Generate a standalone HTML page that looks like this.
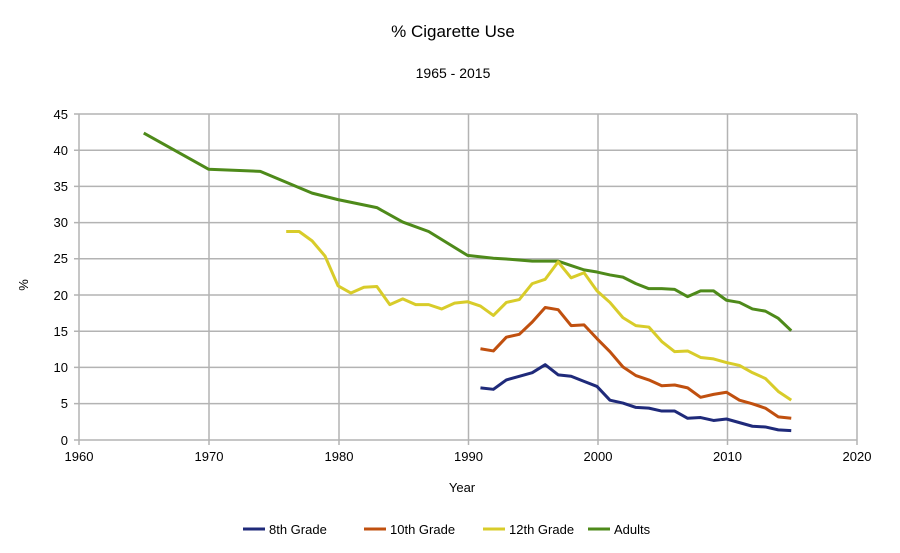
<!DOCTYPE html>
<html><head><style>
body{margin:0;background:#fff;}
svg{display:block;font-family:"Liberation Sans",sans-serif;}
</style></head><body>
<svg width="900" height="553" viewBox="0 0 900 553">
<rect width="900" height="553" fill="#fff"/>
<text x="453" y="37" font-size="17" text-anchor="middle">% Cigarette Use</text>
<text x="453" y="78" font-size="14" text-anchor="middle">1965 - 2015</text>
<g stroke="#b3b3b3" stroke-width="1.5" fill="none">
<path d="M74 114H857M74 150.2H857M74 186.4H857M74 222.6H857M74 258.8H857M74 295H857M74 331.2H857M74 367.4H857M74 403.6H857M74 440H857"/>
<path d="M79 114V445M209 114V445M339 114V445M468.5 114V445M598 114V445M727.5 114V445M857 114V445"/>
</g>
<g font-size="13" text-anchor="end" fill="#000">
<text x="68" y="119">45</text><text x="68" y="155">40</text><text x="68" y="191">35</text><text x="68" y="227">30</text><text x="68" y="263">25</text><text x="68" y="300">20</text><text x="68" y="336">15</text><text x="68" y="372">10</text><text x="68" y="408">5</text><text x="68" y="445">0</text>
</g>
<g font-size="13" text-anchor="middle">
<text x="79" y="461">1960</text><text x="209" y="461">1970</text><text x="339" y="461">1980</text><text x="468.5" y="461">1990</text><text x="598" y="461">2000</text><text x="727.5" y="461">2010</text><text x="857" y="461">2020</text>
<text x="462" y="492">Year</text>
</g>
<text x="28" y="285" font-size="13" text-anchor="middle" transform="rotate(-90 28 285)">%</text>
<g transform="translate(79,440) scale(12.95,-7.24)" fill="none" stroke-width="3" stroke-linejoin="round">
<polyline vector-effect="non-scaling-stroke" stroke="#4e8a1a" points="5,42.4 10,37.4 14,37.1 18,34.1 20,33.2 23,32.1 25,30.1 27,28.8 30,25.5 32,25.1 33,25 35,24.7 37,24.7 38,24.1 39,23.5 40,23.2 41,22.8 42,22.5 43,21.6 44,20.9 45,20.9 46,20.8 47,19.8 48,20.6 49,20.6 50,19.3 51,19.0 52,18.1 53,17.8 54,16.8 55,15.1"/>
<polyline vector-effect="non-scaling-stroke" stroke="#d8cc2a" points="16,28.8 17,28.8 18,27.5 19,25.4 20,21.3 21,20.3 22,21.1 23,21.2 24,18.7 25,19.5 26,18.7 27,18.7 28,18.1 29,18.9 30,19.1 31,18.5 32,17.2 33,19.0 34,19.4 35,21.6 36,22.2 37,24.6 38,22.4 39,23.1 40,20.6 41,19.0 42,16.9 43,15.8 44,15.6 45,13.6 46,12.2 47,12.3 48,11.4 49,11.2 50,10.7 51,10.3 52,9.3 53,8.5 54,6.7 55,5.5"/>
<polyline vector-effect="non-scaling-stroke" stroke="#c0500f" points="31,12.6 32,12.3 33,14.2 34,14.6 35,16.3 36,18.3 37,18.0 38,15.8 39,15.9 40,14.0 41,12.2 42,10.1 43,8.9 44,8.3 45,7.5 46,7.6 47,7.2 48,5.9 49,6.3 50,6.6 51,5.5 52,5.0 53,4.4 54,3.2 55,3.0"/>
<polyline vector-effect="non-scaling-stroke" stroke="#1f2a7a" points="31,7.2 32,7.0 33,8.3 34,8.8 35,9.3 36,10.4 37,9.0 38,8.8 39,8.1 40,7.4 41,5.5 42,5.1 43,4.5 44,4.4 45,4.0 46,4.0 47,3.0 48,3.1 49,2.7 50,2.9 51,2.4 52,1.9 53,1.8 54,1.4 55,1.3"/>
</g>
<g stroke-width="3">
<line x1="243" y1="529" x2="265" y2="529" stroke="#1f2a7a"/>
<line x1="364" y1="529" x2="386" y2="529" stroke="#c0500f"/>
<line x1="483" y1="529" x2="505" y2="529" stroke="#d8cc2a"/>
<line x1="588" y1="529" x2="610" y2="529" stroke="#4e8a1a"/>
</g>
<g font-size="13">
<text x="269" y="534">8th Grade</text>
<text x="390" y="534">10th Grade</text>
<text x="509" y="534">12th Grade</text>
<text x="614" y="534">Adults</text>
</g>
</svg>
</body></html>
